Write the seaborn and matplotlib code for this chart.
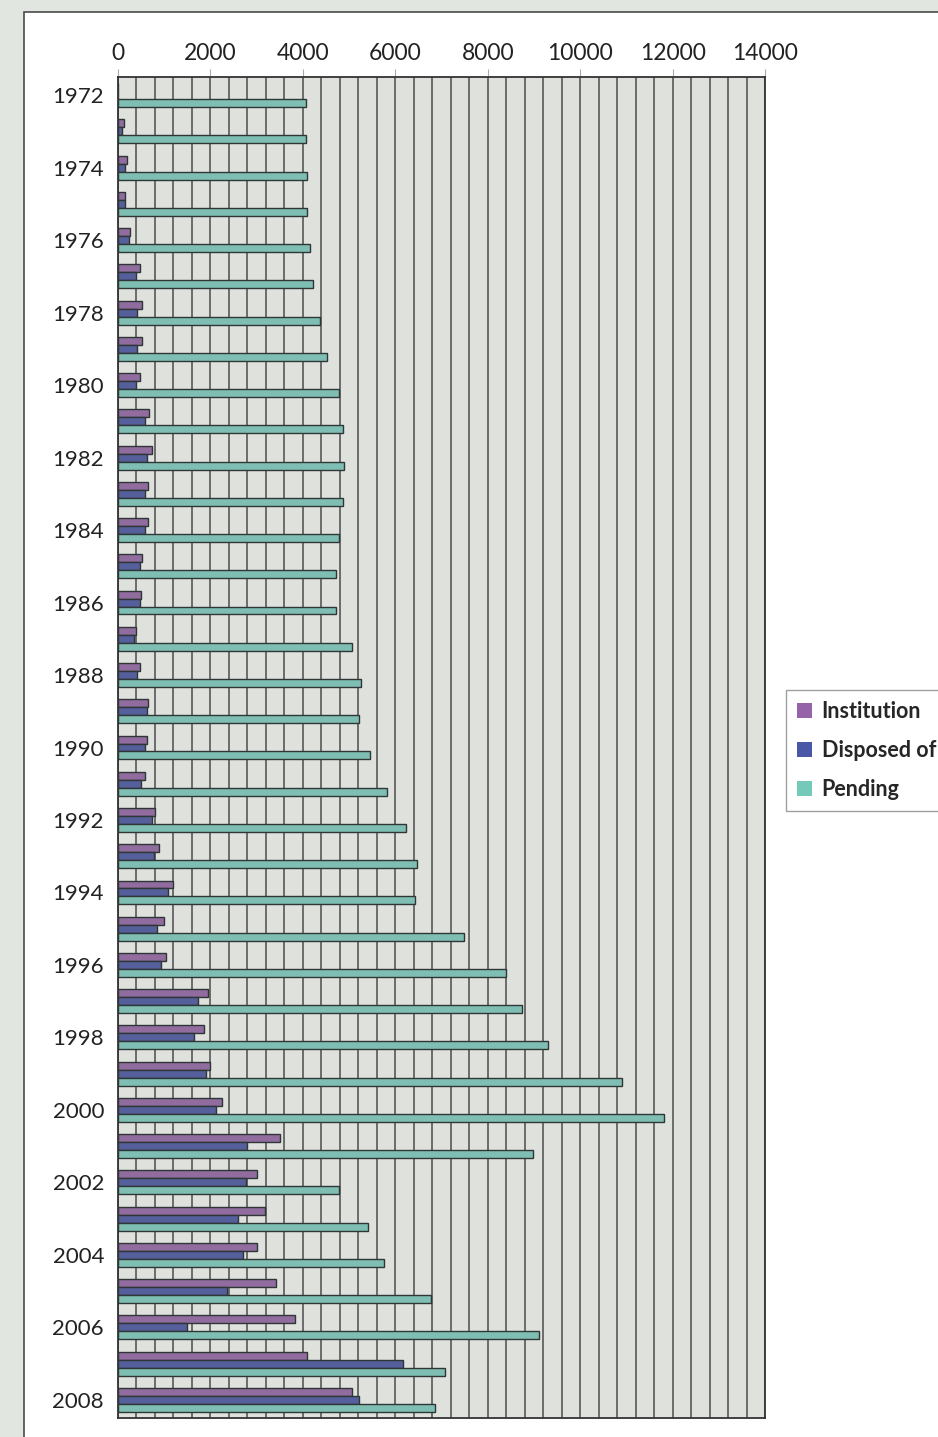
import numpy as np
import pandas as pd
import matplotlib
matplotlib.use("Agg")
import matplotlib.pyplot as plt
import seaborn as sns
from matplotlib.patches import Patch, Rectangle

# ── data ──────────────────────────────────────────────────────────────────────
years = [str(y) for y in range(1972, 2009)]
institution = [0, 120, 190, 150, 270, 470, 530, 530, 470, 680, 730, 650, 650,
               530, 490, 380, 470, 650, 620, 580, 800, 880, 1180, 990, 1030,
               1940, 1870, 1980, 2240, 3500, 3000, 3190, 3000, 3420, 3840,
               4100, 5060]
disposed = [0, 80, 150, 150, 230, 380, 420, 420, 380, 580, 620, 580, 580,
            470, 470, 340, 420, 620, 580, 490, 730, 770, 1080, 840, 940,
            1740, 1640, 1900, 2130, 2800, 2780, 2590, 2700, 2360, 1490,
            6160, 5210]
pending = [4070, 4070, 4100, 4100, 4150, 4210, 4370, 4520, 4790, 4860, 4900,
           4860, 4790, 4710, 4710, 5060, 5250, 5210, 5450, 5810, 6230, 6460,
           6420, 7490, 8400, 8740, 9310, 10910, 11820, 8970, 4790, 5400,
           5750, 6770, 9120, 7070, 6870]
series = ["Institution", "Disposed of", "Pending"]
colors = ["#9563a8", "#4a57a6", "#74c9b9"]

df = pd.DataFrame({
    "year": years * 3,
    "value": institution + disposed + pending,
    "series": np.repeat(series, len(years)),
})

# ── style ─────────────────────────────────────────────────────────────────────
sns.set_style("white")
plt.rcParams["font.family"] = ["Lato", "DejaVu Sans"]

W, H = 938, 1437
fig = plt.figure(figsize=(W / 100, H / 100), dpi=100)
fig.patch.set_facecolor("#e2e6e0")

# white panel behind the chart
fig.patches.append(Rectangle((24 / W, -0.1), 2, 1 - 12 / H + 0.1,
                             transform=fig.transFigure, facecolor="white",
                             edgecolor="#4a4a4a", lw=1.2, zorder=-10))

ax = fig.add_axes([118 / W, 1 - 1418 / H, (765 - 118) / W, (1418 - 77) / H])
ax.set_facecolor("#dfe1dc")

sns.barplot(data=df, y="year", x="value", hue="series", orient="h",
            order=years, hue_order=series, palette=colors, width=0.66,
            edgecolor="#2e3636", linewidth=1.0, legend=False, ax=ax,
            zorder=3)

ax.set_xlim(0, 14000)
ax.set_ylim(len(years) - 0.5, -0.5)

# x axis on top
ax.xaxis.tick_top()
ax.set_xticks(np.arange(0, 14001, 2000))
ax.set_xticks(np.arange(0, 14001, 400), minor=True)
ax.tick_params(axis="x", which="major", length=6, color="#aaaaaa",
               labelsize=16.5, pad=3, labelcolor="#222222")
ax.tick_params(axis="x", which="minor", length=0)
ax.grid(axis="x", which="both", color="#585858", lw=1.2, zorder=1)
ax.set_axisbelow(True)

# y axis: labels every other year, ticks between categories
ax.set_yticks(range(0, len(years), 2))
ax.set_yticklabels(years[::2])
ax.set_yticks(np.arange(-0.5, len(years), 1), minor=True)
ax.tick_params(axis="y", which="major", length=0, labelsize=16, pad=10,
               labelcolor="#222222")
ax.tick_params(axis="y", which="minor", length=6, color="#555555", width=1)
ax.set_xlabel("")
ax.set_ylabel("")

for side, sp in ax.spines.items():
    sp.set_visible(True)
    sp.set_color("#333333")
    sp.set_linewidth(1.3)

handles = [Patch(facecolor=c, edgecolor="none") for c in colors]
leg = fig.legend(handles, series, loc="upper left",
                 bbox_to_anchor=(786 / W, 1 - 690 / H),
                 prop={"size": 15.5, "weight": "bold"}, frameon=True,
                 fancybox=False, edgecolor="#888888", handlelength=0.7,
                 handleheight=0.7, handletextpad=0.45, labelspacing=0.85,
                 borderpad=0.5, borderaxespad=0)
leg.get_frame().set_linewidth(1.0)

fig.savefig("out.png", dpi=100)
